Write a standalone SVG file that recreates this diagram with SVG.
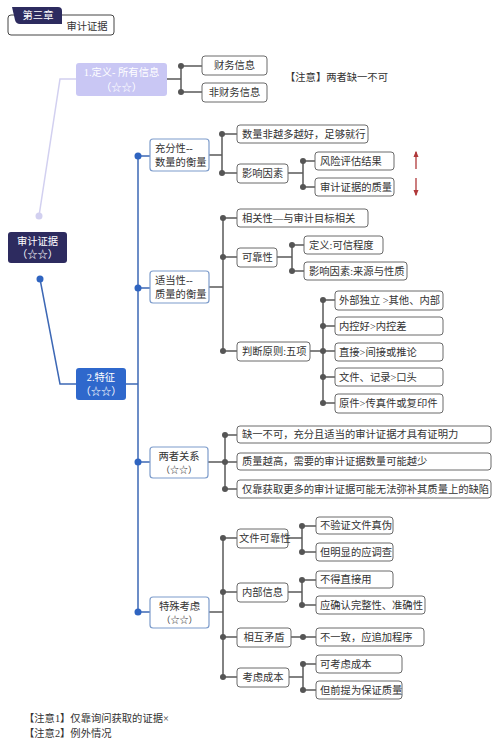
<svg xmlns="http://www.w3.org/2000/svg" width="500" height="741" viewBox="0 0 500 741">
<defs>
<style>
text{font-family:"Liberation Serif","Noto Sans CJK SC",serif;font-size:10.3px;fill:#333;dominant-baseline:central}
.c{text-anchor:middle}
.w{fill:#fff}
.b3{fill:#fff;stroke:#6a6a6a;stroke-width:1}
.b2{fill:#fff;stroke:#7d9ccb;stroke-width:1.2}
.ln{fill:none;stroke:#5a5a5a;stroke-width:1.5}
.bl{fill:none;stroke:#3d68b5;stroke-width:1.5}
.dt{fill:#555}
.bd{fill:#2f64c0}
.ar{stroke:#b0383a;stroke-width:1.3;fill:none}
</style>
<marker id="ah" viewBox="0 0 10 10" refX="8" refY="5" markerWidth="5" markerHeight="5" orient="auto">
<path d="M0,1 L10,5 L0,9 z" fill="#b0383a"/>
</marker>
</defs>
<rect width="500" height="741" fill="#fff"/>

<g id="header">
<rect x="8" y="15" width="106" height="20" rx="3" fill="#fff" stroke="#444" stroke-width="1"/>
<path d="M12,7 H58 Q62,7 62,11 V24 H20 Q16,24 15,20 Z" fill="#2d2b5f"/>
<text class="c w" x="38" y="15.5">第三章</text>
<text class="c" x="87" y="26">审计证据</text>
</g>

<g id="connectors">
<!-- root to level 1 -->
<polyline points="39,216 60,79 76,79" fill="none" stroke="#d2d0f0" stroke-width="1.5"/>
<circle cx="39" cy="216" r="3.5" fill="#d2d0f0"/>
<polyline class="bl" points="40,279 60,384 76,384"/>
<circle class="bd" cx="40" cy="279" r="3.5"/>
<!-- level1 def children -->
<path class="ln" d="M167,79 H181 M181,66 V92 M181,66 H202 M181,92 H202"/>
<circle class="dt" cx="181" cy="66" r="3"/><circle class="dt" cx="181" cy="92" r="3"/>
<!-- spine -->
<path class="bl" d="M126,384 H138 M138,156 V612 M138,156 H150 M138,288 H150 M138,462 H150 M138,612 H150"/>
<circle class="bd" cx="138" cy="156" r="3.5"/><circle class="bd" cx="138" cy="288" r="3.5"/>
<circle class="bd" cx="138" cy="462" r="3.5"/><circle class="bd" cx="138" cy="612" r="3.5"/>
<!-- sufficiency -->
<path class="ln" d="M209,155 H222 M222,134 V173 M222,134 H237 M222,173 H237 M288,173 H303 M303,161 V187 M303,161 H315 M303,187 H315"/>
<circle class="dt" cx="222" cy="134" r="3"/><circle class="dt" cx="222" cy="173" r="3"/>
<circle class="dt" cx="303" cy="161" r="3"/><circle class="dt" cx="303" cy="187" r="3"/>
<!-- appropriateness -->
<path class="ln" d="M209,287 H223 M223,218 V351 M223,218 H237 M223,257 H237 M223,351 H237 M277,257 H292 M292,245 V271 M292,245 H304 M292,271 H304 M310,351 H323 M323,300 V403 M323,300 H335 M323,326 H335 M323,351 H335 M323,377 H335 M323,403 H335"/>
<circle class="dt" cx="223" cy="218" r="3"/><circle class="dt" cx="223" cy="257" r="3"/><circle class="dt" cx="223" cy="351" r="3"/>
<circle class="dt" cx="292" cy="245" r="3"/><circle class="dt" cx="292" cy="271" r="3"/>
<circle class="dt" cx="323" cy="300" r="3"/><circle class="dt" cx="323" cy="326" r="3"/><circle class="dt" cx="323" cy="351" r="3"/><circle class="dt" cx="323" cy="377" r="3"/><circle class="dt" cx="323" cy="403" r="3"/>
<!-- relationship -->
<path class="ln" d="M208,462 H225 M225,435 V489 M225,435 H237 M225,462 H237 M225,489 H237"/>
<circle class="dt" cx="225" cy="435" r="3"/><circle class="dt" cx="225" cy="462" r="3"/><circle class="dt" cx="225" cy="489" r="3"/>
<!-- special -->
<path class="ln" d="M209,612 H223 M223,538 V677 M223,538 H237 M223,592 H237 M223,637 H237 M223,677 H237 M288,538 H302 M302,526 V552 M302,526 H316 M302,552 H316 M288,592 H302 M302,580 V605 M302,580 H316 M302,605 H316 M291,637 H316 M289,677 H303 M303,664 V690 M303,664 H316 M303,690 H316"/>
<circle class="dt" cx="223" cy="538" r="3"/><circle class="dt" cx="223" cy="592" r="3"/><circle class="dt" cx="223" cy="637" r="3"/><circle class="dt" cx="223" cy="677" r="3"/>
<circle class="dt" cx="302" cy="526" r="3"/><circle class="dt" cx="302" cy="552" r="3"/>
<circle class="dt" cx="302" cy="580" r="3"/><circle class="dt" cx="302" cy="605" r="3"/>
<circle class="dt" cx="303" cy="637" r="3"/>
<circle class="dt" cx="303" cy="664" r="3"/><circle class="dt" cx="303" cy="690" r="3"/>
<!-- red arrows -->
<line class="ar" x1="416" y1="169" x2="416" y2="152" marker-end="url(#ah)"/>
<line class="ar" x1="416" y1="178" x2="416" y2="195" marker-end="url(#ah)"/>
</g>

<g id="root">
<rect x="8" y="232" width="59" height="31" rx="3" fill="#2d2b5f"/>
<text class="c w" x="37.5" y="241.5">审计证据</text>
<text class="c w" x="37.5" y="254.5">（☆☆）</text>
</g>

<g id="n-def">
<rect x="76" y="63" width="91" height="33" rx="3" fill="#c9c7f4"/>
<text class="c w" x="121.5" y="72.5">1.定义- 所有信息</text>
<text class="c w" x="121.5" y="87">（☆☆）</text>
</g>
<g id="n-fin"><rect class="b3" x="202" y="56" width="65" height="19" rx="3"/><text class="c" x="234.5" y="65.5">财务信息</text></g>
<g id="n-nonfin"><rect class="b3" x="202" y="83" width="65" height="19" rx="3"/><text class="c" x="234.5" y="92.5">非财务信息</text></g>
<text x="285" y="77">【注意】两者缺一不可</text>

<g id="n-feat">
<rect x="76" y="368" width="50" height="32" rx="3" fill="#2f68cc"/>
<text class="c w" x="101" y="377.5">2.特征</text>
<text class="c w" x="101" y="391">（☆☆）</text>
</g>

<g id="n-suff">
<rect class="b2" x="150" y="139" width="59" height="32" rx="3"/>
<text x="155" y="148">充分性--</text>
<text x="155" y="162">数量的衡量</text>
</g>
<g id="n-s1"><rect class="b3" x="237" y="125" width="131" height="18" rx="3"/><text x="242" y="134">数量非越多越好，足够就行</text></g>
<g id="n-s2"><rect class="b3" x="237" y="164" width="51" height="19" rx="3"/><text x="242" y="173.5">影响因素</text></g>
<g id="n-s21"><rect class="b3" x="315" y="152" width="79" height="18" rx="3"/><text x="320" y="161">风险评估结果</text></g>
<g id="n-s22"><rect class="b3" x="315" y="178" width="79" height="18" rx="3"/><text x="320" y="187">审计证据的质量</text></g>

<g id="n-appr">
<rect class="b2" x="150" y="271" width="59" height="32" rx="3"/>
<text x="155" y="280">适当性--</text>
<text x="155" y="294">质量的衡量</text>
</g>
<g id="n-a1"><rect class="b3" x="237" y="209" width="131" height="18" rx="3"/><text x="242" y="218">相关性—与审计目标相关</text></g>
<g id="n-a2"><rect class="b3" x="237" y="248" width="40" height="19" rx="3"/><text x="242" y="257.5">可靠性</text></g>
<g id="n-a21"><rect class="b3" x="304" y="236" width="79" height="18" rx="3"/><text x="309" y="245">定义:可信程度</text></g>
<g id="n-a22"><rect class="b3" x="304" y="262" width="103" height="18" rx="3"/><text x="309" y="271">影响因素:来源与性质</text></g>
<g id="n-a3"><rect class="b3" x="237" y="342" width="73" height="19" rx="3"/><text x="242" y="351.5">判断原则:五项</text></g>
<g id="n-a31"><rect class="b3" x="335" y="291" width="108" height="19" rx="3"/><text x="339" y="300.5">外部独立 &gt;其他、内部</text></g>
<g id="n-a32"><rect class="b3" x="335" y="317" width="108" height="18" rx="3"/><text x="339" y="326">内控好&gt;内控差</text></g>
<g id="n-a33"><rect class="b3" x="335" y="343" width="108" height="18" rx="3"/><text x="339" y="352">直接&gt;间接或推论</text></g>
<g id="n-a34"><rect class="b3" x="335" y="368" width="108" height="18" rx="3"/><text x="339" y="377">文件、记录&gt;口头</text></g>
<g id="n-a35"><rect class="b3" x="335" y="394" width="108" height="19" rx="3"/><text x="339" y="403.5">原件&gt;传真件或复印件</text></g>

<g id="n-rel">
<rect class="b2" x="150" y="447" width="58" height="31" rx="3"/>
<text class="c" x="179" y="456">两者关系</text>
<text class="c" x="179" y="470" style="font-size:9px">（☆☆）</text>
</g>
<g id="n-r1"><rect class="b3" x="237" y="426" width="254" height="17" rx="3"/><text x="242" y="434.5">缺一不可，充分且适当的审计证据才具有证明力</text></g>
<g id="n-r2"><rect class="b3" x="237" y="453" width="254" height="17" rx="3"/><text x="242" y="461.5">质量越高，需要的审计证据数量可能越少</text></g>
<g id="n-r3"><rect class="b3" x="237" y="480" width="254" height="18" rx="3"/><text x="242" y="489">仅靠获取更多的审计证据可能无法弥补其质量上的缺陷</text></g>

<g id="n-spec">
<rect class="b2" x="150" y="597" width="59" height="31" rx="3"/>
<text class="c" x="179.5" y="606">特殊考虑</text>
<text class="c" x="179.5" y="620" style="font-size:9px">（☆☆）</text>
</g>
<g id="n-p1"><rect class="b3" x="237" y="529" width="51" height="19" rx="3"/><text x="239" y="538.5">文件可靠性</text></g>
<g id="n-p11"><rect class="b3" x="316" y="517" width="77" height="17" rx="3"/><text x="320" y="525.5">不验证文件真伪</text></g>
<g id="n-p12"><rect class="b3" x="316" y="543" width="77" height="18" rx="3"/><text x="320" y="552">但明显的应调查</text></g>
<g id="n-p2"><rect class="b3" x="237" y="583" width="51" height="19" rx="3"/><text class="c" x="262.5" y="592.5">内部信息</text></g>
<g id="n-p21"><rect class="b3" x="316" y="571" width="77" height="17" rx="3"/><text x="320" y="579.5">不得直接用</text></g>
<g id="n-p22"><rect class="b3" x="316" y="596" width="109" height="18" rx="3"/><text x="320" y="605">应确认完整性、准确性</text></g>
<g id="n-p3"><rect class="b3" x="237" y="628" width="54" height="19" rx="3"/><text class="c" x="264" y="637.5">相互矛盾</text></g>
<g id="n-p31"><rect class="b3" x="316" y="628" width="108" height="18" rx="3"/><text x="320" y="637">不一致，应追加程序</text></g>
<g id="n-p4"><rect class="b3" x="237" y="668" width="52" height="19" rx="3"/><text class="c" x="263" y="677.5">考虑成本</text></g>
<g id="n-p41"><rect class="b3" x="316" y="655" width="86" height="18" rx="3"/><text x="320" y="664">可考虑成本</text></g>
<g id="n-p42"><rect class="b3" x="316" y="681" width="86" height="18" rx="3"/><text x="320" y="690">但前提为保证质量</text></g>

<g id="notes">
<text x="24" y="718">【注意1】仅靠询问获取的证据×</text>
<text x="24" y="733">【注意2】例外情况</text>
</g>
</svg>
